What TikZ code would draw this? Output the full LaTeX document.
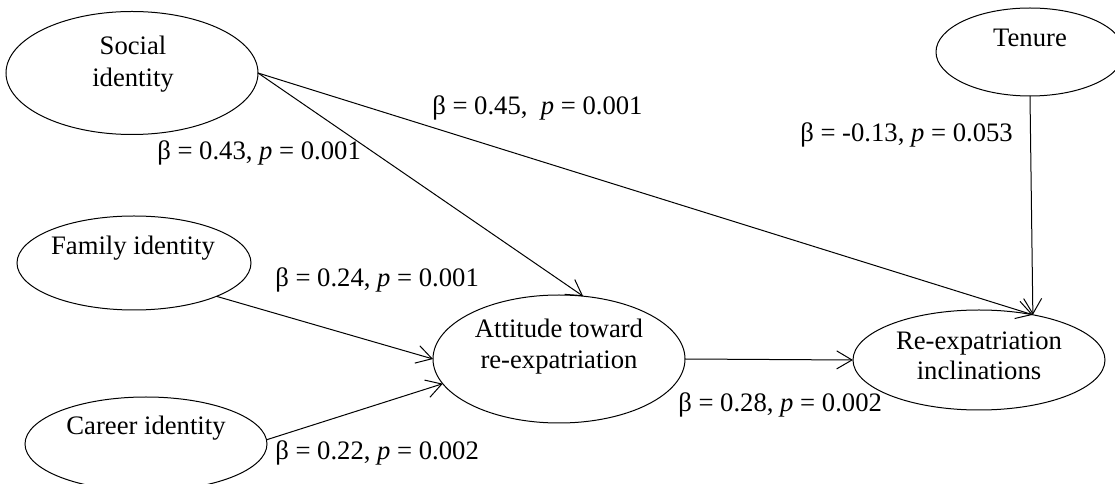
\documentclass[tikz,border=0pt]{standalone}
\usepackage{fontspec}
\setmainfont{Liberation Serif}
\usetikzlibrary{arrows.meta,shapes.geometric}
\begin{document}
\begin{tikzpicture}[x=0.75pt,y=-0.75pt, font=\fontsize{20}{24}\selectfont,
  latent/.style={draw, ellipse, line width=0.75pt, inner sep=0pt, outer sep=0pt},
  txt/.style={anchor=base, inner sep=0pt},
  lab/.style={anchor=base west, inner sep=0pt},
  conn/.style={-{Straight Barb[length=11.5pt,width=13.5pt,line width=0.75pt]}, line width=0.75pt}]
\useasboundingbox (0,0) rectangle (1115,484);

% latent variables
\node[latent, minimum width=189pt, minimum height=92.25pt] (soc) at (132,73) {};
\node[latent, minimum width=175.5pt, minimum height=70.5pt] (fam) at (134,263) {};
\node[latent, minimum width=181.5pt, minimum height=70.5pt] (car) at (146,444) {};
\node[latent, minimum width=189pt, minimum height=96pt] (att) at (559,359) {};
\node[latent, minimum width=189pt, minimum height=75pt] (re) at (979,360) {};
\node[latent, minimum width=141pt, minimum height=66pt] (ten) at (1030,52) {};

% texts
\node[txt] (soc1) at (133,55) {Social};
\node[txt] (soc2) at (133,87) {identity};
\node[txt] (famt) at (133,255) {Family identity};
\node[txt] (cart) at (146,435) {Career identity};
\node[txt] (att1) at (559,338) {Attitude toward};
\node[txt] (att2) at (559,369) {re-expatriation};
\node[txt] (re1) at (979,350) {Re-expatriation};
\node[txt] (re2) at (979,380) {inclinations};
\node[txt] (tent) at (1030,47) {Tenure};

% connectors
\draw[conn] (soc.east) -- (att.69);
\draw[conn] (soc.east) -- (re.40);
\draw[conn] (ten.south) -- (re.40);
\draw[conn] (fam.-22) -- (att.west);
\draw[conn] (car.2) -- (att.192);
\draw[conn] (att.east) -- (re.west);

% coefficients
\node[lab] (l45) at (432,115) {β = 0.45,\ \ \textit{p} = 0.001};
\node[lab] (l43) at (157,160) {β = 0.43, \textit{p} = 0.001};
\node[lab] (l13) at (800,142) {β = -0.13, \textit{p} = 0.053};
\node[lab] (l24) at (275,287) {β = 0.24, \textit{p} = 0.001};
\node[lab] (l22) at (275,460) {β = 0.22, \textit{p} = 0.002};
\node[lab] (l28) at (678,412) {β = 0.28, \textit{p} = 0.002};
\end{tikzpicture}
\end{document}
